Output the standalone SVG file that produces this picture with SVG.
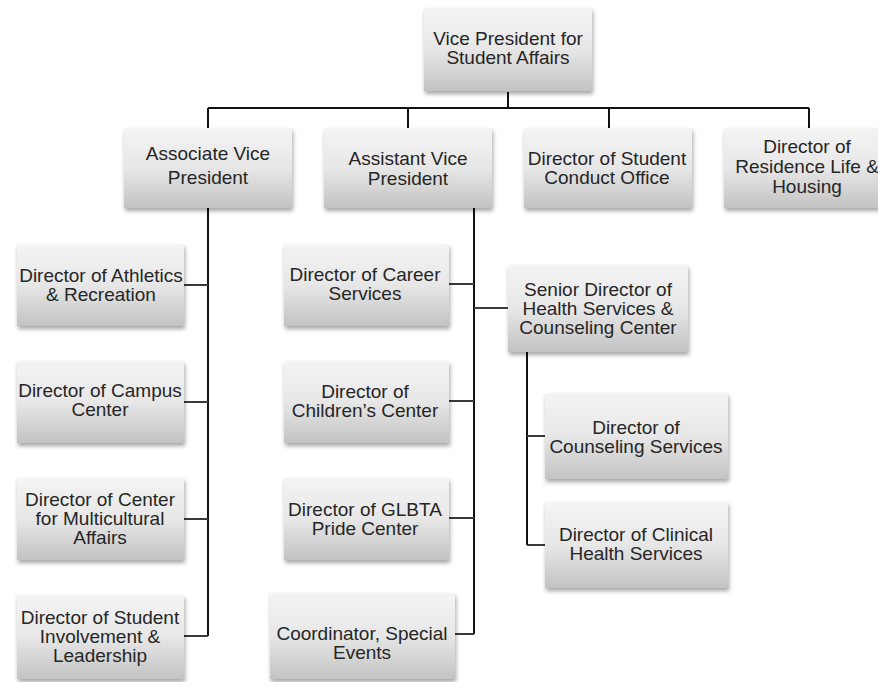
<svg xmlns="http://www.w3.org/2000/svg" width="878" height="682" viewBox="0 0 878 682">
<style>
.box{fill:url(#g);filter:url(#sh)}
.t{font-family:"Liberation Sans",Arial,sans-serif;font-size:19px;fill:#262626;text-anchor:middle}
.c{fill:none;stroke:#111;stroke-width:2}
.b{fill:none;stroke:#3a3a3a;stroke-width:2}
</style>
<defs>
<linearGradient id="g" x1="0" y1="0" x2="0" y2="1">
<stop offset="0" stop-color="#f4f4f4"/>
<stop offset="0.5" stop-color="#e7e7e7"/>
<stop offset="1" stop-color="#c3c3c3"/>
</linearGradient>
<filter id="sh" x="-10%" y="-10%" width="125%" height="130%">
<feDropShadow dx="1" dy="3" stdDeviation="2" flood-color="#000" flood-opacity="0.35"/>
</filter>
</defs>
<rect width="878" height="682" fill="#fff"/>
<g id="connectors">
<path class="c" d="M508 92V108M208 108H809M208 108V128M408 108V128M609 108V128M809 108V128"/>
<path class="c" d="M208 208V636M474 208V634M527 352V545"/>
<path class="b" d="M184 285H208M184 402H208M184 519H208M184 636H208"/>
<path class="b" d="M449 284H474M449 401H474M449 518H474M455 634H474M474 308H508"/>
<path class="b" d="M527 436H545M527 545H545"/>
</g>
<g id="vp"><rect class="box" x="424" y="8" width="168" height="83"/>
<text class="t" x="508" y="45">Vice President for</text><text class="t" x="508" y="64">Student Affairs</text></g>
<g id="avp"><rect class="box" x="124" y="128" width="168" height="80"/>
<text class="t" x="208" y="160">Associate Vice</text><text class="t" x="208" y="184">President</text></g>
<g id="asvp"><rect class="box" x="324" y="128" width="168" height="80"/>
<text class="t" x="408" y="165">Assistant Vice</text><text class="t" x="408" y="185">President</text></g>
<g id="conduct"><rect class="box" x="524" y="128" width="168" height="80"/>
<text class="t" x="607" y="165">Director of Student</text><text class="t" x="607" y="184">Conduct Office</text></g>
<g id="residence"><rect class="box" x="724" y="128" width="168" height="80"/>
<text class="t" x="807" y="153">Director of</text><text class="t" x="807" y="173">Residence Life &amp;</text><text class="t" x="807" y="193">Housing</text></g>
<g id="athletics"><rect class="box" x="17" y="244" width="167" height="82"/>
<text class="t" x="101" y="282">Director of Athletics</text><text class="t" x="101" y="301">&amp; Recreation</text></g>
<g id="campus"><rect class="box" x="17" y="361" width="167" height="82"/>
<text class="t" x="100" y="397">Director of Campus</text><text class="t" x="100" y="416">Center</text></g>
<g id="multicultural"><rect class="box" x="17" y="478" width="167" height="82"/>
<text class="t" x="100" y="506">Director of Center</text><text class="t" x="100" y="525">for Multicultural</text><text class="t" x="100" y="544">Affairs</text></g>
<g id="involvement"><rect class="box" x="17" y="595" width="167" height="84"/>
<text class="t" x="100" y="624">Director of Student</text><text class="t" x="100" y="643">Involvement &amp;</text><text class="t" x="100" y="662">Leadership</text></g>
<g id="career"><rect class="box" x="284" y="244" width="165" height="82"/>
<text class="t" x="365" y="281">Director of Career</text><text class="t" x="365" y="300">Services</text></g>
<g id="children"><rect class="box" x="284" y="361" width="165" height="82"/>
<text class="t" x="365" y="398">Director of</text><text class="t" x="365" y="417">Children’s Center</text></g>
<g id="glbta"><rect class="box" x="284" y="478" width="165" height="82"/>
<text class="t" x="365" y="516">Director of GLBTA</text><text class="t" x="365" y="535">Pride Center</text></g>
<g id="coordinator"><rect class="box" x="270" y="593" width="185" height="86"/>
<text class="t" x="362" y="640">Coordinator, Special</text><text class="t" x="362" y="659">Events</text></g>
<g id="senior"><rect class="box" x="508" y="265" width="180" height="87"/>
<text class="t" x="598" y="296">Senior Director of</text><text class="t" x="598" y="315">Health Services &amp;</text><text class="t" x="598" y="334">Counseling Center</text></g>
<g id="counseling"><rect class="box" x="545" y="393" width="183" height="86"/>
<text class="t" x="636" y="434">Director of</text><text class="t" x="636" y="453">Counseling Services</text></g>
<g id="clinical"><rect class="box" x="545" y="502" width="183" height="86"/>
<text class="t" x="636" y="541">Director of Clinical</text><text class="t" x="636" y="560">Health Services</text></g>
</svg>
